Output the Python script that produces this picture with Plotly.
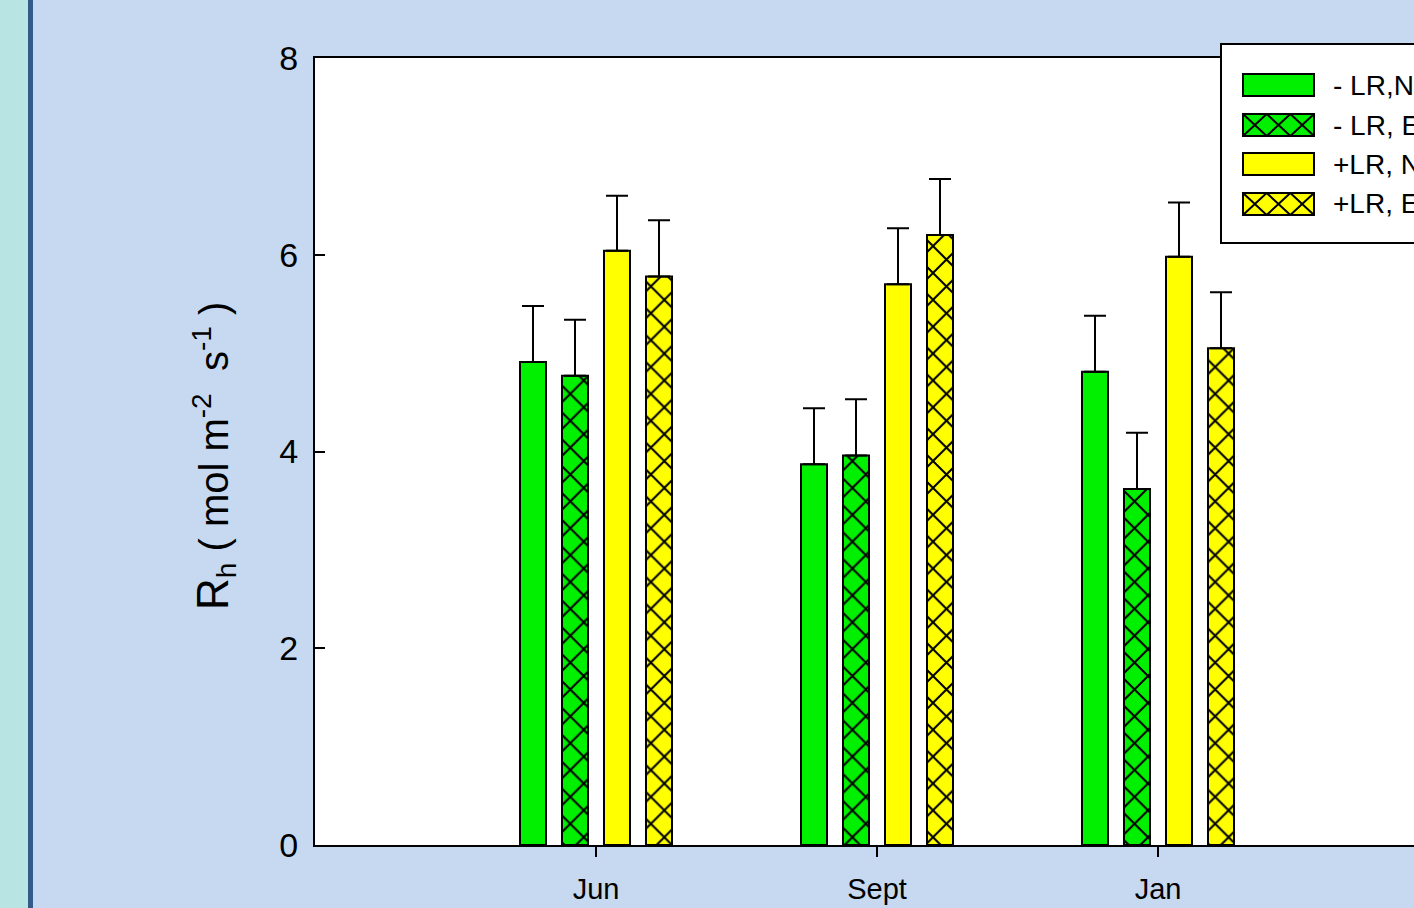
import plotly.graph_objects as go

# ---- data ----
months = ["Jun", "Sept", "Jan"]
series_names = ["- LR,NE", "- LR, E", "+LR, NE", "+LR, E"]
noLR_N = [4.91, 3.87, 4.81]
noLR_E = [4.77, 3.96, 3.62]
LR_N = [6.04, 5.70, 5.98]
LR_E = [5.78, 6.20, 5.05]
noLR_N_err = [0.57, 0.57, 0.57]
noLR_E_err = [0.57, 0.57, 0.57]
LR_N_err = [0.56, 0.57, 0.55]
LR_E_err = [0.57, 0.57, 0.57]
yticks = [0, 2, 4, 6, 8]

values = [noLR_N, noLR_E, LR_N, LR_E]
errors = [noLR_N_err, noLR_E_err, LR_N_err, LR_E_err]
colors = ["#00F000", "#00F000", "#FFFF00", "#FFFF00"]
hatched = [False, True, False, True]

W, H = 1414, 908
ML, MR, MT, MB = 315, 0, 58, 63
PW, PH = W - ML - MR, H - MT - MB
cat_px = 281.0
x_pos = [1, 2, 3]

bar_w = 26 / cat_px
centers = [-63 / cat_px, -21 / cat_px, 21 / cat_px, 63 / cat_px]

FONT = "Arial, Liberation Sans, sans-serif"

fig = go.Figure()
for i in range(4):
    pattern = dict(shape="x", size=19, solidity=0.2, fgcolor="black", fgopacity=1,
                   bgcolor=colors[i], fillmode="overlay") if hatched[i] else dict(shape="")
    fig.add_trace(go.Bar(
        x=x_pos, y=values[i], name=series_names[i],
        width=bar_w, offset=centers[i] - bar_w / 2,
        marker=dict(color=colors[i], line=dict(color="black", width=2), pattern=pattern),
        error_y=dict(type="data", array=errors[i], arrayminus=[0] * 3, symmetric=False,
                     color="black", thickness=2, width=11),
        showlegend=False,
    ))

def px_x(px):
    return (px - ML) / PW

def px_y(py):
    return (H - MB - py) / PH

shapes = []
# background decorations: teal strip and dark blue line at left
shapes.append(dict(type="rect", xref="paper", yref="paper", x0=px_x(0), x1=px_x(28),
                   y0=px_y(H), y1=px_y(0), fillcolor="#B8E4E3", line_width=0, layer="below"))
shapes.append(dict(type="rect", xref="paper", yref="paper", x0=px_x(28), x1=px_x(33),
                   y0=px_y(H), y1=px_y(0), fillcolor="#335B8A", line_width=0, layer="below"))

# legend box
shapes.append(dict(type="rect", xref="paper", yref="paper", x0=px_x(1221), x1=px_x(1480),
                   y0=px_y(243), y1=px_y(44), fillcolor="white",
                   line=dict(color="black", width=2)))
row_y = [85, 125, 164, 204]
sx0, sx1 = 1243, 1314
annotations = []
for i in range(4):
    cy = row_y[i]
    shapes.append(dict(type="rect", xref="paper", yref="paper", x0=px_x(sx0), x1=px_x(sx1),
                       y0=px_y(cy + 11), y1=px_y(cy - 11), fillcolor=colors[i],
                       line=dict(color="black", width=2)))
    if hatched[i]:
        p = (sx1 - sx0) / 3.0
        path = ""
        for k in range(3):
            a = sx0 + k * p
            b = a + p
            path += f"M{px_x(a)},{px_y(cy - 11)} L{px_x(b)},{px_y(cy + 11)} "
            path += f"M{px_x(a)},{px_y(cy + 11)} L{px_x(b)},{px_y(cy - 11)} "
        shapes.append(dict(type="path", xref="paper", yref="paper", path=path,
                           line=dict(color="black", width=2)))
    annotations.append(dict(xref="paper", yref="paper", x=px_x(1331), y=px_y(cy),
                            xanchor="left", yanchor="middle", showarrow=False,
                            text=series_names[i], font=dict(family=FONT, size=28, color="black")))

# y axis title
nb = "\u00a0"
annotations.append(dict(xref="paper", yref="paper", x=px_x(214), y=px_y(456),
                        xanchor="center", yanchor="middle", showarrow=False, textangle=-90,
                        text=("<span style='font-size:44px'>R</span><sub>h</sub>" + nb + "(" + nb + "mol"
                              + nb + "m<sup>-2</sup>" + nb + nb + "s<sup>-1</sup>" + nb + ")"),
                        font=dict(family=FONT, size=40, color="black")))

fig.update_layout(
    width=W, height=H,
    margin=dict(l=ML, r=MR, t=MT, b=MB, pad=0),
    paper_bgcolor="#C6D9F0",
    plot_bgcolor="white",
    barmode="overlay",
    showlegend=False,
    shapes=shapes,
    annotations=annotations,
    font=dict(family=FONT, color="black"),
)
fig.update_xaxes(
    range=[0, PW / cat_px], tickvals=x_pos, ticktext=months,
    showline=True, linecolor="black", linewidth=2, mirror=True,
    ticks="outside", ticklen=10, tickwidth=2, tickcolor="black",
    showgrid=False, zeroline=False, tickfont=dict(size=29, family=FONT),
    ticklabelstandoff=7,
)
fig.update_yaxes(
    range=[0, 8], tickvals=yticks,
    showline=True, linecolor="black", linewidth=2, mirror=False,
    ticks="inside", ticklen=10, tickwidth=2, tickcolor="black",
    showgrid=False, zeroline=False, tickfont=dict(size=34, family=FONT),
    ticklabelstandoff=8,
)

fig.write_html("out.html", config={"displayModeBar": False},
               post_script="document.body.style.margin='0';document.documentElement.style.margin='0';")
